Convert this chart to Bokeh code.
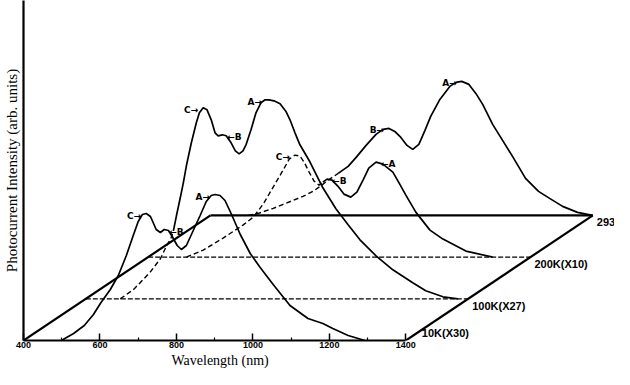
import numpy as np
from bokeh.plotting import figure
from bokeh.models import ColumnDataSource, FixedTicker, Range1d, Title
from bokeh.core.properties import value
from bokeh.embed import file_html
from bokeh.resources import INLINE

# ---------------- data ----------------
TEMP_LABELS = ["10K(X30)", "100K(X27)", "200K(X10)", "293K"]

WL_10K = [499, 531, 559, 583, 601, 627, 648, 669, 687, 700, 711, 721, 732, 739, 747, 758,
          768, 779, 789, 802, 813, 826, 844, 862, 878, 891, 901, 914, 927, 943, 967, 993,
          1019, 1053, 1097, 1144, 1183, 1209, 1249, 1293]
I_10K = [0, 7, 15, 26, 37, 51, 65, 85, 105, 119, 126, 127, 124, 118, 111, 108,
         111, 110, 104, 95, 91, 95, 110, 125, 139, 145, 146, 145, 140, 127, 106, 87,
         73, 56, 35, 22, 17, 12, 5, 0]

WL_100K = [490, 524, 542, 569, 595, 610, 623, 629, 637, 647, 655, 663, 676, 689, 697, 707,
           717, 728, 738, 746, 757, 767, 780, 791, 801, 811, 819, 832, 845, 858, 869, 879,
           892, 908, 924, 934, 947, 960, 986, 1020, 1054, 1086, 1117, 1159, 1203, 1255,
           1289, 1334, 1373]
I_100K = [0, 9, 16, 27, 40, 52, 61, 68, 83, 101, 116, 133, 156, 176, 186, 191,
          189, 179, 166, 163, 164, 163, 156, 148, 145, 148, 154, 169, 186, 196, 199, 199,
          198, 195, 187, 179, 166, 154, 137, 111, 90, 74, 59, 43, 29, 16,
          8, 2, 0]

WL_200K = [500, 544, 596, 648, 675, 701, 727, 753, 769, 784, 797, 808, 821, 834, 847, 857,
           868, 881, 896, 912, 930, 946, 962, 977, 996, 1014, 1040, 1058, 1074, 1100, 1137,
           1171, 1231, 1301]
I_200K = [0, 7, 19, 32, 40, 53, 70, 87, 98, 102, 101, 95, 85, 76, 72, 75,
          78, 77, 71, 63, 60, 65, 77, 89, 95, 93, 85, 73, 62, 45, 27,
          18, 6, 0]

WL_293K = [499, 525, 564, 590, 616, 642, 668, 687, 707, 734, 760, 781, 807, 833, 851, 867,
           882, 898, 914, 929, 945, 961, 976, 1000, 1026, 1042, 1057, 1076, 1094, 1112,
           1138, 1164, 1190, 1224, 1258, 1287, 1321, 1360, 1399]
I_293K = [0, 2, 7, 11, 15, 19, 24, 29, 35, 42, 49, 58, 70, 81, 86, 87,
          84, 78, 70, 66, 71, 85, 99, 116, 129, 133, 134, 131, 122, 111,
          91, 75, 59, 37, 24, 17, 9, 3, 0]

# peak labels: (spectrum index, wavelength of the feature, text, side of the text)
PEAK_IDX = [0, 0, 0, 1, 1, 1, 2, 2, 2, 3, 3]
PEAK_WL = [721, 768, 901, 707, 757, 874, 784, 868, 996, 867, 1057]
PEAK_TEXT = ["C\u2192", "\u2190B", "A\u2192", "C\u2192", "\u2190B", "A\u2192",
             "C\u2192", "\u2190B", "\u2190A", "B\u2192", "A\u2192"]
PEAK_SIDE = ["L", "R", "L", "L", "R", "L", "L", "R", "R", "L", "L"]

X_TICKS = [400, 600, 800, 1000, 1200, 1400]
X_MINOR = [500, 700, 900, 1100, 1300]
BASE_START, BASE_END = 400, 1400
STEP_NM = 163.0      # perspective shift of each spectrum along the wavelength axis
STEP_I = 41.7        # perspective shift of each spectrum along the intensity axis

WLS = [WL_10K, WL_100K, WL_200K, WL_293K]
INTS = [I_10K, I_100K, I_200K, I_293K]

# ---------------- figure ----------------
PX_PER_NM = 0.383
W, H = 614, 369
LEFT, BOTTOM = 22, 29
frame_w = W - LEFT
frame_h = H - BOTTOM

p = figure(width=W, height=H, output_backend="svg", toolbar_location=None,
           x_range=Range1d(400, 400 + frame_w / PX_PER_NM), y_range=Range1d(0, frame_h),
           min_border_left=LEFT, min_border_right=0, min_border_top=0,
           min_border_bottom=BOTTOM)
p.outline_line_color = None
p.grid.visible = False
p.background_fill_color = "white"
p.border_fill_color = "white"

xa = p.xaxis[0]
xa.ticker = FixedTicker(ticks=X_TICKS, minor_ticks=X_MINOR)
xa.bounds = (BASE_START, BASE_END)
xa.axis_line_width = 2.2
xa.axis_line_color = "black"
xa.major_tick_in = 7
xa.major_tick_out = 0
xa.minor_tick_in = 3
xa.minor_tick_out = 0
xa.major_tick_line_width = 1.5
xa.minor_tick_line_width = 1.2
xa.major_label_standoff = 1
xa.major_label_text_font = "Liberation Sans"
xa.major_label_text_font_style = "bold"
xa.major_label_text_font_size = "9px"
xa.major_label_text_color = "black"

p.add_layout(Title(text="Wavelength (nm)", align="left", offset=148, standoff=0,
                   text_font="Liberation Serif", text_font_style="normal",
                   text_font_size="14px", text_color="black"), "below")

ya = p.yaxis[0]
ya.ticker = FixedTicker(ticks=[])
ya.axis_line_width = 2.2
ya.axis_line_color = "black"
ya.major_tick_line_color = None
ya.minor_tick_line_color = None
ya.major_tick_out = 0
ya.major_label_standoff = 0
ya.major_label_text_font_size = "0px"
ya.axis_label = "Photocurrent Intensity (arb. units)"
ya.axis_label_standoff = 4
ya.axis_label_text_font = "Liberation Serif"
ya.axis_label_text_font_style = "normal"
ya.axis_label_text_font_size = "15px"
ya.axis_label_text_color = "black"

# ---------------- perspective frame ----------------
last = len(WLS) - 1
p.line([BASE_START, BASE_START + last * STEP_NM], [0, last * STEP_I],
       line_color="black", line_width=2.2)
p.line([BASE_END, BASE_END + last * STEP_NM], [0, last * STEP_I],
       line_color="black", line_width=2.2)
for k in range(1, len(WLS)):
    xs = [BASE_START + k * STEP_NM, BASE_END + k * STEP_NM]
    ys = [k * STEP_I, k * STEP_I]
    if k == last:
        p.line(xs, ys, line_color="black", line_width=2.2)
    else:
        p.line(xs, ys, line_color="black", line_width=1.3, line_dash="5 2")

# ---------------- spectra with hidden parts dashed ----------------
curves = []
for k in range(len(WLS)):
    curves.append((np.array(WLS[k], float) + k * STEP_NM,
                   np.array(INTS[k], float) + k * STEP_I))

sol_x, sol_y, dsh_x, dsh_y = [], [], [], []
for k, (x, y) in enumerate(curves):
    occ = np.full(len(x), -np.inf)
    for j in range(k):
        xj, yj = curves[j]
        inside = (x >= xj[0]) & (x <= xj[-1])
        occ = np.where(inside, np.maximum(occ, np.interp(x, xj, yj)), occ)
    hidden = y < occ
    s = 0
    n = len(x)
    for i in range(1, n + 1):
        if i == n or hidden[i] != hidden[s]:
            e = min(i + 1, n)
            if hidden[s]:
                dsh_x.append(list(x[s:e])); dsh_y.append(list(y[s:e]))
            else:
                sol_x.append(list(x[s:e])); sol_y.append(list(y[s:e]))
            s = i

p.multi_line(sol_x, sol_y, line_color="black", line_width=1.7)
p.multi_line(dsh_x, dsh_y, line_color="black", line_width=1.4, line_dash="5 3")

# ---------------- peak labels ----------------
lx, ly, lt, la, lo = [], [], [], [], []
for k, wl, t, side in zip(PEAK_IDX, PEAK_WL, PEAK_TEXT, PEAK_SIDE):
    cx, cy = curves[k]
    px = wl + k * STEP_NM
    lx.append(px)
    ly.append(float(np.interp(px, cx, cy)))
    lt.append(t)
    la.append("right" if side == "L" else "left")
    lo.append(-5 if side == "L" else 5)
src = ColumnDataSource(dict(x=lx, y=ly, text=lt, align=la, xo=lo))
p.text(x="x", y="y", text="text", source=src, text_align="align", x_offset="xo",
       y_offset=2, text_baseline="middle", text_font=value("DejaVu Sans"),
       text_font_style="bold", text_font_size="9px", text_color="black")

# ---------------- temperature labels ----------------
tx = [BASE_END + k * STEP_NM for k in range(len(WLS))]
ty = [k * STEP_I for k in range(len(WLS))]
to = [16 if k == 0 else 4 for k in range(len(WLS))]
tyo = [-8 if k == 0 else 7 for k in range(len(WLS))]
tsrc = ColumnDataSource(dict(x=tx, y=ty, text=TEMP_LABELS, xo=to, yo=tyo))
p.text(x="x", y="y", text="text", source=tsrc, x_offset="xo", y_offset="yo",
       text_align="left", text_baseline="alphabetic", text_font=value("Liberation Sans"),
       text_font_style="bold", text_font_size="11px", text_color="black")

open("out.html", "w").write(file_html(p, INLINE))
